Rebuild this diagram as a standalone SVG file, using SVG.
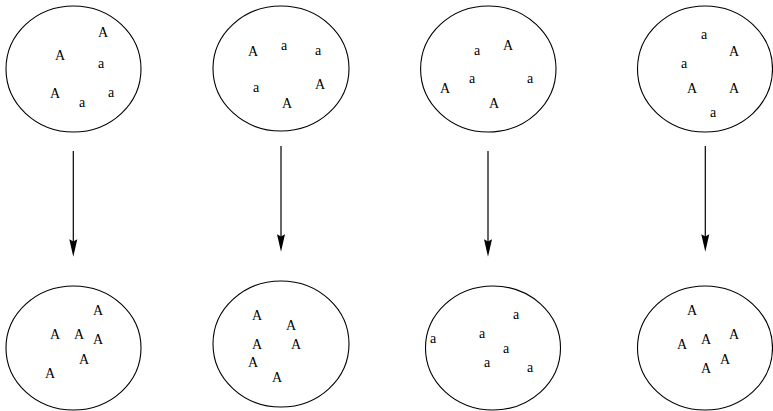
<svg xmlns="http://www.w3.org/2000/svg" width="773" height="411" viewBox="0 0 773 411">
<style>
.c{fill:none;stroke:#000;stroke-width:1.1}
.t{font-family:"Liberation Serif","Times New Roman",serif;font-size:14px;fill:#000;text-anchor:middle}
.l{stroke:#000;stroke-width:1.2;fill:none}
.h{fill:#000}
</style>
<rect width="773" height="411" fill="#fff"/>
<g id="n1"><ellipse class="c" cx="73.5" cy="69" rx="67.5" ry="63"/>
<text class="t" x="103" y="37">A</text><text class="t" x="60" y="60">A</text><text class="t" x="101" y="68">a</text><text class="t" x="55" y="98">A</text><text class="t" x="82" y="107">a</text><text class="t" x="111" y="97">a</text></g>
<g id="n2"><ellipse class="c" cx="281" cy="68.5" rx="68" ry="62.5"/>
<text class="t" x="253" y="56">A</text><text class="t" x="284" y="50">a</text><text class="t" x="318" y="55">a</text><text class="t" x="256" y="92">a</text><text class="t" x="320" y="89">A</text><text class="t" x="287" y="108">A</text></g>
<g id="n3"><ellipse class="c" cx="488.3" cy="69" rx="67.7" ry="63"/>
<text class="t" x="477" y="55">a</text><text class="t" x="508" y="50">A</text><text class="t" x="472" y="83">a</text><text class="t" x="530" y="83">a</text><text class="t" x="445" y="93">A</text><text class="t" x="494" y="108">A</text></g>
<g id="n4"><ellipse class="c" cx="705" cy="69" rx="67.5" ry="63"/>
<text class="t" x="704" y="39">a</text><text class="t" x="734" y="56">A</text><text class="t" x="684" y="68">a</text><text class="t" x="692" y="93">A</text><text class="t" x="734" y="93">A</text><text class="t" x="713" y="117">a</text></g>
<g id="n5"><ellipse class="c" cx="73.5" cy="348" rx="67.5" ry="62"/>
<text class="t" x="98" y="315">A</text><text class="t" x="55" y="339">A</text><text class="t" x="79" y="339">A</text><text class="t" x="98" y="344">A</text><text class="t" x="84" y="364">A</text><text class="t" x="50" y="378">A</text></g>
<g id="n6"><ellipse class="c" cx="281" cy="344" rx="68" ry="63"/>
<text class="t" x="257" y="320">A</text><text class="t" x="291" y="330">A</text><text class="t" x="257" y="349">A</text><text class="t" x="296" y="349">A</text><text class="t" x="253" y="367">A</text><text class="t" x="277" y="382">A</text></g>
<g id="n7"><ellipse class="c" cx="493" cy="348" rx="67.5" ry="62"/>
<text class="t" x="516" y="319">a</text><text class="t" x="433" y="343">a</text><text class="t" x="482" y="338">a</text><text class="t" x="506" y="353">a</text><text class="t" x="487" y="367">a</text><text class="t" x="530" y="372">a</text></g>
<g id="n8"><ellipse class="c" cx="705" cy="348" rx="67.5" ry="62"/>
<text class="t" x="692" y="315">A</text><text class="t" x="682" y="349">A</text><text class="t" x="706" y="344">A</text><text class="t" x="734" y="339">A</text><text class="t" x="725" y="364">A</text><text class="t" x="706" y="373">A</text></g>
<g id="connectors">
<line class="l" x1="73.3" y1="151" x2="73.3" y2="242"/><polygon class="h" points="73.3,256.7 69.3,239.3 73.3,241.5 77.3,239.3"/>
<line class="l" x1="281" y1="146" x2="281" y2="237"/><polygon class="h" points="281,251.7 277,234.3 281,236.5 285,234.3"/>
<line class="l" x1="488" y1="151" x2="488" y2="242"/><polygon class="h" points="488,256.7 484,239.3 488,241.5 492,239.3"/>
<line class="l" x1="705.3" y1="146" x2="705.3" y2="237"/><polygon class="h" points="705.3,251.7 701.3,234.3 705.3,236.5 709.3,234.3"/>
</g>
</svg>
